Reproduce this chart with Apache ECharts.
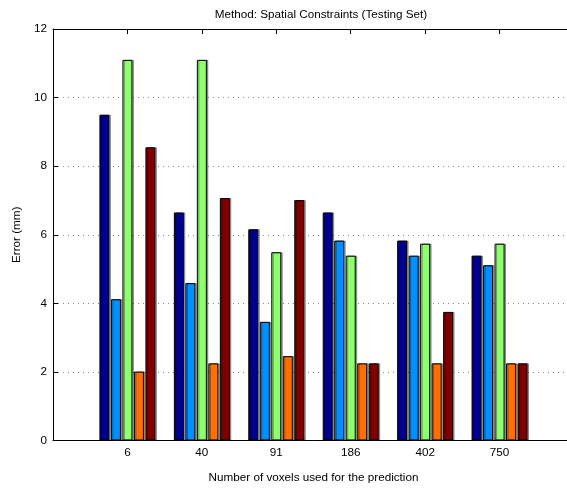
<!DOCTYPE html>
<html>
<head>
<meta charset="utf-8">
<script src="https://cdn.jsdelivr.net/npm/echarts@6/dist/echarts.min.js"></script>
<style>html,body{margin:0;padding:0;background:#fff;overflow:hidden;width:567px;height:489px}#c{width:600px;height:489px}</style>
</head>
<body>
<div id="c"></div>
<script>
const categories = ['6', '40', '91', '186', '402', '750'];
const seriesA = [9.50, 6.65, 6.16, 6.65, 5.83, 5.39];
const seriesB = [4.12, 4.59, 3.46, 5.83, 5.39, 5.11];
const seriesC = [11.10, 11.10, 5.49, 5.39, 5.74, 5.74];
const seriesD = [2.01, 2.25, 2.46, 2.25, 2.25, 2.25];
const seriesE = [8.55, 7.07, 7.01, 2.25, 3.75, 2.25];
const yTicks = [0, 2, 4, 6, 8, 10, 12];
const colors = ['#00008f', '#0090ff', '#8fff70', '#ff7000', '#800000'];

const padded = ['', ...categories, ''];
const pad = arr => ['-', ...arr, '-'];
const FONT = 'Liberation Sans, Arial, sans-serif';
const FS = 11.7;

const chart = echarts.init(document.getElementById('c'), null, {renderer: 'canvas'});
const allSeries = [seriesA, seriesB, seriesC, seriesD, seriesE].map((vals, i) => ({
  type: 'bar',
  data: pad(vals),
  barWidth: 10,
  barGap: '15%',
  itemStyle: {
    color: colors[i],
    borderColor: '#000',
    borderWidth: 1,
    shadowColor: 'rgba(0,0,0,0.35)',
    shadowOffsetX: 1.5,
    shadowBlur: 0
  },
  silent: true
}));

chart.setOption({
  animation: false,
  title: {
    text: 'Method: Spatial Constraints (Testing Set)',
    left: 316,
    top: 4,
    textAlign: 'center',
    textStyle: {fontFamily: FONT, fontSize: FS, fontWeight: 'normal', color: '#000'}
  },
  grid: {left: 53, right: 26, top: 29, bottom: 48.5, containLabel: false},
  xAxis: [{
    type: 'category',
    data: padded,
    boundaryGap: false,
    position: 'bottom',
    axisLine: {lineStyle: {color: '#000', width: 1}},
    axisTick: {inside: true, length: 5, lineStyle: {color: '#000'}},
    axisLabel: {fontFamily: FONT, fontSize: FS, color: '#000', margin: 6},
    splitLine: {show: false},
    name: 'Number of voxels used for the prediction',
    nameLocation: 'middle',
    nameGap: 31,
    nameTextStyle: {fontFamily: FONT, fontSize: FS, color: '#000'}
  }, {
    type: 'category',
    data: padded,
    boundaryGap: false,
    position: 'top',
    axisLine: {lineStyle: {color: '#000', width: 1}},
    axisTick: {inside: true, length: 5, lineStyle: {color: '#000'}},
    axisLabel: {show: false},
    splitLine: {show: false}
  }],
  yAxis: [{
    type: 'value',
    min: yTicks[0],
    max: yTicks[yTicks.length - 1],
    interval: 2,
    axisLine: {show: true, lineStyle: {color: '#000', width: 1}},
    axisTick: {show: true, inside: true, length: 5, lineStyle: {color: '#000'}},
    axisLabel: {fontFamily: FONT, fontSize: FS, color: '#000', margin: 6},
    splitLine: {show: true, lineStyle: {color: '#888', type: [1, 4], width: 1}},
    name: 'Error (mm)',
    nameLocation: 'middle',
    nameGap: 26,
    nameTextStyle: {fontFamily: FONT, fontSize: FS, color: '#000'}
  }],
  series: allSeries
});
</script>
</body>
</html>
